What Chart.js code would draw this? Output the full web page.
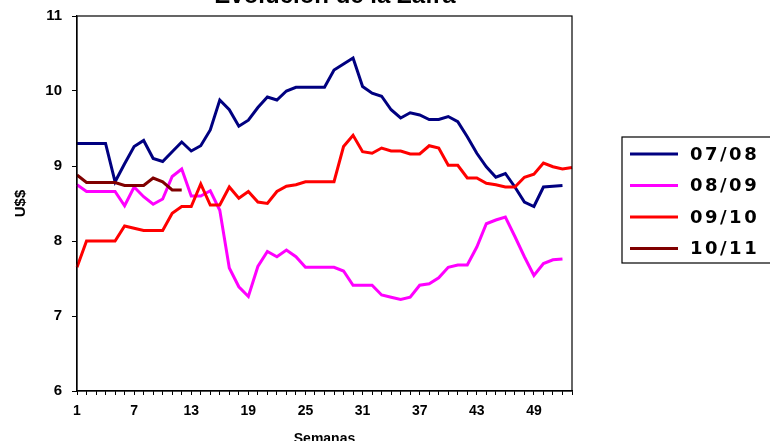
<!DOCTYPE html>
<html>
<head>
<meta charset="utf-8">
<script src="https://cdn.jsdelivr.net/npm/chart.js@4.4.1/dist/chart.umd.min.js"></script>
<style>
  html, body { margin: 0; padding: 0; background: #ffffff; overflow: hidden; }
  #wrap { position: absolute; left: 0; top: -20px; width: 770px; height: 471px; }
</style>
</head>
<body>
<div id="wrap"><canvas id="c"></canvas></div>
<script>
// ---- data ----
const weeks = ['1','2','3','4','5','6','7','8','9','10','11','12','13','14','15','16','17','18','19','20',
  '21','22','23','24','25','26','27','28','29','30','31','32','33','34','35','36','37','38','39','40',
  '41','42','43','44','45','46','47','48','49','50','51','52','53'];
const xTickLabels = ['1','7','13','19','25','31','37','43','49'];
const seriesNames = ['07/08','08/09','09/10','10/11'];

const s0708 = [9.30,9.30,9.30,9.30,8.79,9.03,9.26,9.34,9.10,9.06,
  9.19,9.32,9.20,9.27,9.48,9.88,9.75,9.53,9.61,9.78,
  9.92,9.88,10.00,10.05,10.05,10.05,10.05,10.28,10.36,10.44,
  10.06,9.97,9.93,9.75,9.64,9.71,9.68,9.62,9.62,9.66,
  9.59,9.39,9.17,8.99,8.85,8.90,8.72,8.52,8.46,8.72,8.73,8.74];
const s0809 = [8.75,8.66,8.66,8.66,8.66,8.47,8.72,8.59,8.49,8.56,
  8.86,8.96,8.60,8.60,8.67,8.41,7.64,7.39,7.26,7.66,
  7.86,7.79,7.88,7.79,7.65,7.65,7.65,7.65,7.60,7.41,
  7.41,7.41,7.28,7.25,7.22,7.25,7.41,7.43,7.51,7.65,
  7.68,7.68,7.92,8.23,8.28,8.32,8.06,7.79,7.54,7.70,7.75,7.76];
const s0910 = [7.65,8.00,8.00,8.00,8.00,8.20,8.17,8.14,8.14,8.14,
  8.37,8.46,8.46,8.76,8.48,8.48,8.72,8.57,8.66,8.52,
  8.50,8.66,8.73,8.75,8.79,8.79,8.79,8.79,9.26,9.41,
  9.19,9.17,9.24,9.20,9.20,9.16,9.16,9.27,9.24,9.01,
  9.01,8.84,8.84,8.77,8.75,8.72,8.72,8.85,8.89,9.04,8.99,8.96,8.98];
const s1011 = [8.88,8.78,8.78,8.78,8.78,8.74,8.74,8.74,8.84,8.79,8.68,8.68];

const yTicks = [6,7,8,9,10,11];

const colors = ['#000080','#FF00FF','#FF0000','#800000'];

const frameAndExtras = {
  id: 'frameAndExtras',
  afterDraw(chart) {
    const ctx = chart.ctx;
    const a = chart.chartArea;
    ctx.save();
    // plot frame
    ctx.strokeStyle = '#000000';
    ctx.lineWidth = 1.2;
    ctx.strokeRect(a.left, a.top, a.right - a.left, a.bottom - a.top);
    // title (mostly cut off at top)
    ctx.fillStyle = '#000000';
    ctx.font = 'bold 24px "Liberation Sans", Arial, sans-serif';
    ctx.textAlign = 'center';
    ctx.textBaseline = 'alphabetic';
    ctx.fillText('Evolución de la Zafra', 335, 22.5);
    // legend
    const lx = 622, ly = 157, lw = 190, lh = 126;
    ctx.strokeStyle = '#000000';
    ctx.lineWidth = 1.2;
    ctx.strokeRect(lx, ly, lw, lh);
    ctx.font = 'bold 18px "DejaVu Sans", sans-serif';
    ctx.textAlign = 'left';
    ctx.textBaseline = 'middle';
    try { ctx.letterSpacing = '2.5px'; } catch (e) {}
    chart.data.datasets.forEach((ds, i) => {
      const y = ly + 17 + i * 31.5;
      ctx.strokeStyle = ds.borderColor;
      ctx.lineWidth = 3;
      ctx.beginPath();
      ctx.moveTo(630, y);
      ctx.lineTo(678, y);
      ctx.stroke();
      ctx.fillStyle = '#000000';
      ctx.fillText(ds.label, 690, y + 1);
    });
    ctx.restore();
  }
};

new Chart(document.getElementById('c'), {
  type: 'line',
  data: {
    labels: weeks,
    datasets: [
      { label: seriesNames[0], data: s0708, borderColor: colors[0], order: 4 },
      { label: seriesNames[1], data: s0809, borderColor: colors[1], order: 3 },
      { label: seriesNames[2], data: s0910, borderColor: colors[2], order: 2 },
      { label: seriesNames[3], data: s1011, borderColor: colors[3], order: 1 }
    ].map(d => Object.assign(d, { borderWidth: 3, pointRadius: 0, tension: 0, fill: false, backgroundColor: d.borderColor }))
  },
  options: {
    responsive: true,
    maintainAspectRatio: false,
    animation: false,
    layout: { padding: { top: 36, right: 198, left: 0, bottom: 0 } },
    plugins: { legend: { display: false }, title: { display: false }, tooltip: { enabled: false } },
    scales: {
      x: {
        type: 'category',
        offset: false,
        afterFit: s => { s.height = 60; },
        grid: { drawOnChartArea: false, drawTicks: true, tickLength: 4, color: '#000000', lineWidth: 1 },
        border: { display: true, color: '#000000', width: 1.2 },
        ticks: {
          autoSkip: false, maxRotation: 0, minRotation: 0, padding: 8,
          color: '#000000',
          font: { family: '"Liberation Sans", Arial, sans-serif', size: 14, weight: 'bold' },
          callback: function(v, i) { const l = this.getLabelForValue(v); return xTickLabels.includes(l) ? l : ''; }
        },
        title: { display: true, text: 'Semanas', color: '#000000',
          font: { family: '"Liberation Sans", Arial, sans-serif', size: 14, weight: 'bold' },
          padding: { top: 0, bottom: 3 } }
      },
      y: {
        min: 6, max: 11,
        afterFit: s => { s.width = 77; },
        afterBuildTicks: s => { s.ticks = yTicks.map(v => ({ value: v })); },
        grid: { drawOnChartArea: false, drawTicks: true, tickLength: 5, color: '#000000', lineWidth: 1 },
        border: { display: true, color: '#000000', width: 1.2 },
        ticks: { padding: 10, color: '#000000',
          font: { family: '"Liberation Sans", Arial, sans-serif', size: 15, weight: 'bold' } },
        title: { display: true, text: 'U$$', color: '#000000',
          font: { family: '"Liberation Sans", Arial, sans-serif', size: 15, weight: 'bold' },
          padding: { top: 12, bottom: 0 } }
      }
    }
  },
  plugins: [frameAndExtras]
});
</script>
</body>
</html>
